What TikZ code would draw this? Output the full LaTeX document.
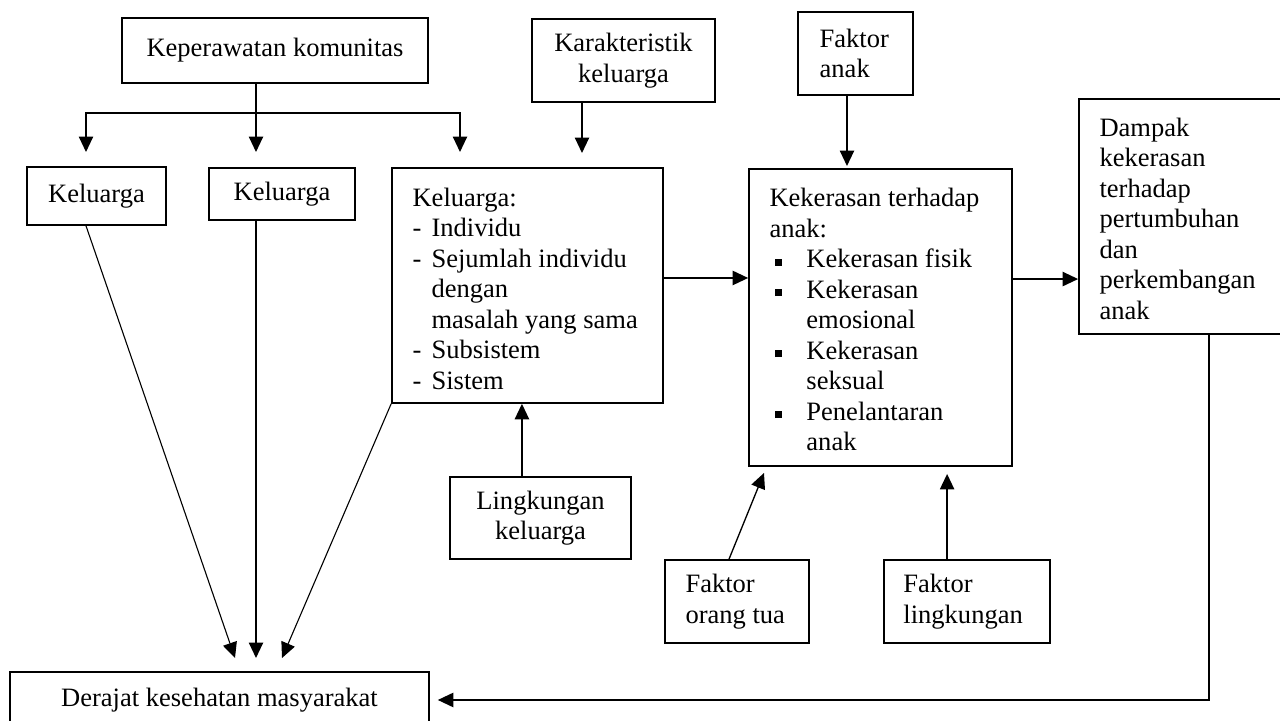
\documentclass[tikz,border=0pt]{standalone}
\usepackage{fontspec}
\setmainfont{Liberation Serif}
\usetikzlibrary{arrows.meta}

\tikzset{
  kotak/.style={draw, line width=0.8pt, inner sep=0pt, font=\fontsize{12}{13.8}\selectfont},
  isi/.style={inner sep=0pt, align=left, anchor=west, font=\fontsize{12}{13.8}\selectfont},
  panah/.style={line width=0.6pt, -{Triangle[width=6.5pt,length=7pt]}},
}
\newcommand{\tanda}{\makebox[8.6pt][l]{-}}
\newcommand{\gantung}{\hspace*{8.6pt}}
\newcommand{\kotakkecil}{\makebox[16.7pt][l]{\hspace{2.3pt}\rule[0.9pt]{3.2pt}{3.2pt}}}
\newcommand{\lanjut}{\hspace*{16.7pt}}

\begin{document}
\begin{tikzpicture}[x=0.4525pt, y=-0.4525pt]
  \useasboundingbox (0,0) rectangle (1280,721);

  % Top row
  \node[kotak, minimum width=138.5pt, minimum height=29.4pt] (kom) at (275,50.5) {Keperawatan komunitas};
  \node[kotak, minimum width=82.8pt, minimum height=37.6pt, align=center] (kar) at (623.5,60.5) {Karakteristik\\keluarga};
  \node[kotak, minimum width=52pt, minimum height=37.6pt] (fan) at (855.5,53.5) {};
  \node[isi] (fantxt) at ([xshift=10pt]fan.west) {Faktor\\anak};

  % Keluarga boxes
  \node[kotak, minimum width=62.9pt, minimum height=26.2pt] (kel1) at (96.5,196) {Keluarga};
  \node[kotak, minimum width=66.1pt, minimum height=23.5pt] (kel2) at (282,194) {Keluarga};
  \node[kotak, minimum width=122.6pt, minimum height=106.3pt] (kelb) at (527.5,285.5) {};
  \node[isi] (kelbtxt) at ([xshift=9.5pt, yshift=-1.4pt]kelb.west) {Keluarga:\\
    \tanda Individu\\
    \tanda Sejumlah individu\\
    \gantung dengan\\
    \gantung masalah yang sama\\
    \tanda Subsistem\\
    \tanda Sistem};

  % Kekerasan and Dampak
  \node[kotak, minimum width=119pt, minimum height=134.4pt] (kek) at (880.5,317.5) {};
  \node[isi] (kektxt) at ([xshift=9.5pt, yshift=-0.9pt]kek.west) {Kekerasan terhadap\\
    anak:\\
    \kotakkecil Kekerasan fisik\\
    \kotakkecil Kekerasan\\
    \lanjut emosional\\
    \kotakkecil Kekerasan\\
    \lanjut seksual\\
    \kotakkecil Penelantaran\\
    \lanjut anak};
  \node[kotak, minimum width=95.5pt, minimum height=106.3pt] (dam) at (1184.5,216.5) {};
  \node[isi] (damtxt) at ([xshift=9.5pt, yshift=-0.9pt]dam.west) {Dampak\\ kekerasan\\ terhadap\\ pertumbuhan\\ dan\\ perkembangan\\ anak};

  % Lower boxes
  \node[kotak, minimum width=81.9pt, minimum height=37.1pt, align=center] (lin) at (540.5,518) {Lingkungan\\keluarga};
  \node[kotak, minimum width=65.2pt, minimum height=37.6pt] (for) at (737,601.5) {};
  \node[isi] (fortxt) at ([xshift=9.5pt]for.west) {Faktor\\orang tua};
  \node[kotak, minimum width=75.1pt, minimum height=37.6pt] (fli) at (967,601.5) {};
  \node[isi] (flitxt) at ([xshift=9pt]fli.west) {Faktor\\lingkungan};
  \node[kotak, minimum width=189.6pt, minimum height=25.3pt] (der) at (219.5,700) {Derajat kesehatan masyarakat};

  % Arrows from Keperawatan komunitas
  \coordinate (pa) at (86,152);
  \coordinate (pb) at (256,152);
  \coordinate (pc) at (460,152);
  \draw[panah] (pb |- kom.south) -- (pb);
  \draw[panah] (pb |- 0,113) -| (pa);
  \draw[panah] (pb |- 0,113) -| (pc);

  \coordinate (ka) at (582,153);
  \draw[panah] (ka |- kar.south) -- (ka);
  \coordinate (fa) at (847,166);
  \draw[panah] (fa |- fan.south) -- (fa);

  % Into Derajat kesehatan masyarakat
  \coordinate (t1) at (235,658);
  \coordinate (t2) at (256,658);
  \coordinate (t3) at (282,658);
  \draw[panah, line width=0.5pt] (pa |- kel1.south) -- (t1);
  \draw[panah] (pb |- kel2.south) -- (t2);
  \draw[panah, line width=0.5pt] (kelb.south west) -- (t3);
  \draw[panah, shorten >=3.6pt] ([xshift=11.1pt]dam.south) |- (der.east);

  % Middle chain
  \draw[panah] ([yshift=3.4pt]kelb.east) -- ([yshift=3.4pt]kelb.east -| kek.west);
  \draw[panah] ([yshift=17.4pt]kek.east) -- ([yshift=17.4pt]kek.east -| dam.west);
  \draw[panah] ([xshift=-8.4pt]lin.north) -- ([xshift=-8.4pt]lin.north |- kelb.south);

  % Factors into Kekerasan
  \coordinate (fo) at (764,473);
  \draw[panah] ([xshift=-3.6pt]for.north) -- (fo);
  \draw[panah, shorten >=3.2pt] ([xshift=-9pt]fli.north) -- ([xshift=-9pt]fli.north |- kek.south);

\end{tikzpicture}
\end{document}
